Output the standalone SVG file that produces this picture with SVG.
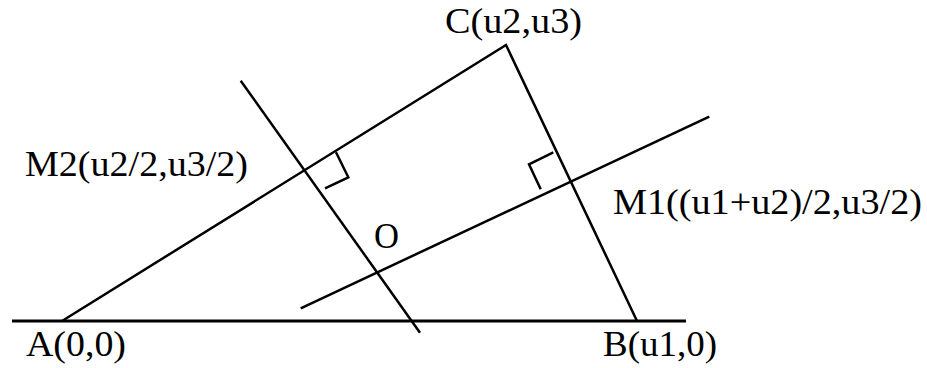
<svg xmlns="http://www.w3.org/2000/svg" width="927" height="368" viewBox="0 0 927 368">
<style>
.ln{stroke:#000;stroke-width:2.5;fill:none;stroke-linecap:butt}
.bl{stroke:#000;stroke-width:3;fill:none}
.lb{font-family:"Liberation Serif","Times New Roman",serif;font-size:36px;fill:#000}
</style>
<rect width="927" height="368" fill="#fff"/>
<g id="connectors">
<line class="bl" x1="12" y1="321" x2="686" y2="321"/>
<polyline class="ln" points="62,321 506,45 637,321"/>
<line class="ln" x1="240.7" y1="80.7" x2="420" y2="332.7"/>
<line class="ln" x1="300.7" y1="308.3" x2="709.3" y2="116.7"/>
<polyline class="ln" points="336,152.3 348.3,177.3 325,188.3"/>
<polyline class="ln" points="553.3,152.3 529,164.3 540.7,189.3"/>
</g>
<g id="A"><text class="lb" x="26" y="356" textLength="100" lengthAdjust="spacingAndGlyphs">A(0,0)</text></g>
<g id="B"><text class="lb" x="603" y="356" textLength="114" lengthAdjust="spacingAndGlyphs">B(u1,0)</text></g>
<g id="C"><text class="lb" x="445" y="33" textLength="137" lengthAdjust="spacingAndGlyphs">C(u2,u3)</text></g>
<g id="M2"><text class="lb" x="25" y="176" textLength="223" lengthAdjust="spacingAndGlyphs">M2(u2/2,u3/2)</text></g>
<g id="M1"><text class="lb" x="613" y="214" textLength="309" lengthAdjust="spacingAndGlyphs">M1((u1+u2)/2,u3/2)</text></g>
<g id="O"><text class="lb" x="374" y="248" textLength="25" lengthAdjust="spacingAndGlyphs">O</text></g>
</svg>
